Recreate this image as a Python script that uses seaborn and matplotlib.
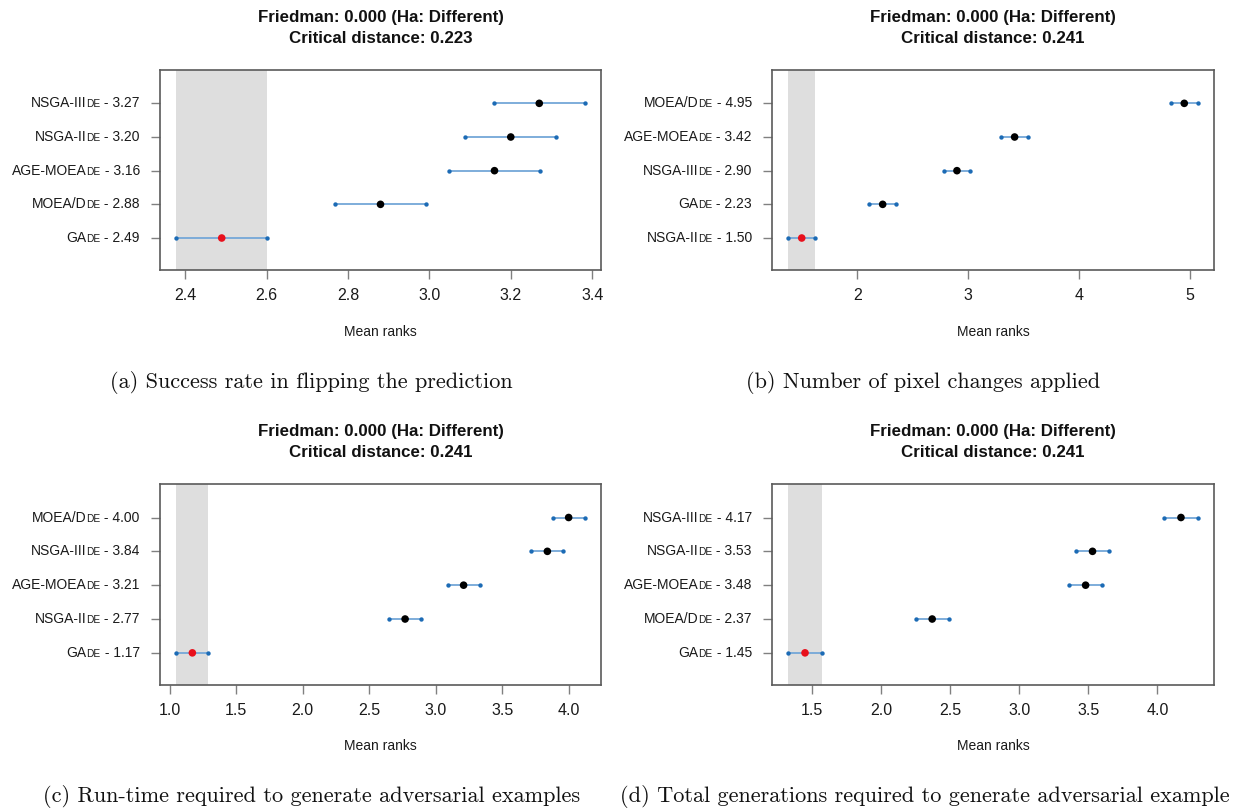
import matplotlib
matplotlib.use("Agg")
import matplotlib.pyplot as plt
import seaborn as sns
import pandas as pd
from matplotlib.offsetbox import TextArea, HPacker, AnnotationBbox
from matplotlib.ticker import MultipleLocator, FormatStrFormatter

# ---------------- data ----------------
# algorithms listed from bottom (best, lowest mean rank) to top
algos_a = ["GA", "MOEA/D", "AGE-MOEA", "NSGA-II", "NSGA-III"]
ranks_a = [2.49, 2.88, 3.16, 3.20, 3.27]
cd_a = 0.223

algos_b = ["NSGA-II", "GA", "NSGA-III", "AGE-MOEA", "MOEA/D"]
ranks_b = [1.50, 2.23, 2.90, 3.42, 4.95]
cd_b = 0.241

algos_c = ["GA", "NSGA-II", "AGE-MOEA", "NSGA-III", "MOEA/D"]
ranks_c = [1.17, 2.77, 3.21, 3.84, 4.00]
cd_c = 0.241

algos_d = ["GA", "MOEA/D", "AGE-MOEA", "NSGA-II", "NSGA-III"]
ranks_d = [1.45, 2.37, 3.48, 3.53, 4.17]
cd_d = 0.241

friedman_p = ["0.000", "0.000", "0.000", "0.000"]
captions = ["(a) Success rate in flipping the prediction",
            "(b) Number of pixel changes applied",
            "(c) Run-time required to generate adversarial examples",
            "(d) Total generations required to generate adversarial example"]
tick_steps = [0.2, 1.0, 0.5, 0.5]
tick_fmts = ["%.1f", "%d", "%.1f", "%.1f"]

# ---------------- figure ----------------
W, H = 1247, 810
fig = plt.figure(figsize=(W / 100, H / 100), dpi=100)
fig.patch.set_facecolor("white")

SANS = "Liberation Sans"
LINE_C = "#74a7d8"
END_C = "#1c6bb5"
SHADE_C = "#dedede"
FRAME_C = "#5a5a5a"
TICK_C = "#808080"

# axes boxes in pixels: left, top, right, bottom
boxes = [(160, 70, 601, 270), (772, 70, 1214, 270),
         (160, 484, 601, 685), (772, 484, 1214, 685)]
title_y = [27.8, 27.8, 442, 442]
xlabel_y = [332, 332, 746, 746]
caption_xy = [(311, 383), (923, 383), (312, 797), (925, 797)]

panels = [(algos_a, ranks_a, cd_a), (algos_b, ranks_b, cd_b),
          (algos_c, ranks_c, cd_c), (algos_d, ranks_d, cd_d)]

for i, (algos, ranks, cd) in enumerate(panels):
    l, t, r, b = boxes[i]
    ax = fig.add_axes([l / W, 1 - b / H, (r - l) / W, (b - t) / H])
    pos = list(range(1, len(algos) + 1))
    half = cd / 2
    df = pd.DataFrame({"algo": algos, "rank": ranks, "pos": pos})
    df["lo"] = df["rank"] - half
    df["hi"] = df["rank"] + half
    best = df["rank"].min()

    ax.axvspan(best - half, best + half, color=SHADE_C, lw=0, zorder=0)
    ax.hlines(df["pos"], df["lo"], df["hi"], color=LINE_C, lw=1.3, zorder=2)
    ends = pd.DataFrame({"x": list(df["lo"]) + list(df["hi"]),
                         "y": list(df["pos"]) * 2})
    sns.scatterplot(data=ends, x="x", y="y", ax=ax, color=END_C, s=10,
                    linewidth=0, zorder=3, legend=False)
    df["col"] = ["best" if v == best else "other" for v in df["rank"]]
    sns.scatterplot(data=df, x="rank", y="pos", hue="col",
                    palette={"best": "#e8101c", "other": "#000000"},
                    ax=ax, s=30, linewidth=0, zorder=4, legend=False)

    lo, hi = df["lo"].min(), df["hi"].max()
    pad = 0.04 * (hi - lo)
    ax.set_xlim(lo - pad, hi + pad)
    ax.set_ylim(0.05, 5.99)

    ax.xaxis.set_major_locator(MultipleLocator(tick_steps[i]))
    ax.xaxis.set_major_formatter(FormatStrFormatter(tick_fmts[i]))
    ax.set_yticks(pos)
    ax.set_yticklabels([])
    ax.set_xlabel("")
    ax.set_ylabel("")
    for s in ax.spines.values():
        s.set_color(FRAME_C)
        s.set_linewidth(1.2)
    ax.tick_params(axis="both", direction="out", length=6.5, width=1.0,
                   color=TICK_C)
    ax.tick_params(axis="x", pad=6.5, labelsize=11.5, labelcolor="#1a1a1a")
    for lab in ax.get_xticklabels():
        lab.set_family(SANS)

    # y labels: name + small-caps "DE" + " - rank"
    for name, rk, p in zip(df["algo"], df["rank"], df["pos"]):
        tp = dict(fontsize=10, family=SANS, color="#1a1a1a")
        tps = dict(fontsize=7.3, family=SANS, color="#1a1a1a")
        box = HPacker(children=[TextArea(name, textprops=tp),
                                TextArea("DE", textprops=tps),
                                TextArea(" - %.2f" % rk, textprops=tp)],
                      align="baseline", pad=0, sep=0)
        ab = AnnotationBbox(box, (0, p), xycoords=("axes fraction", "data"),
                            xybox=(-14.5, 0), boxcoords="offset points",
                            box_alignment=(1, 0.5), frameon=False, pad=0,
                            annotation_clip=False)
        ax.add_artist(ab)

    cx = (l + r) / 2
    fig.text(cx / W, 1 - title_y[i] / H,
             "Friedman: %s (Ha: Different)\nCritical distance: %.3f" % (friedman_p[i], cd),
             ha="center", va="center", fontsize=12.2, fontweight="bold",
             family=SANS, linespacing=1.5, color="#111111")
    fig.text(cx / W, 1 - xlabel_y[i] / H, "Mean ranks", ha="center",
             va="center", fontsize=10, family=SANS, color="#1a1a1a")
    capx, capy = caption_xy[i]
    fig.text(capx / W, 1 - capy / H, captions[i], ha="center", va="center",
             fontsize=16, family="cmr10", color="#111111")

fig.savefig("out.png", dpi=100, facecolor="white")
